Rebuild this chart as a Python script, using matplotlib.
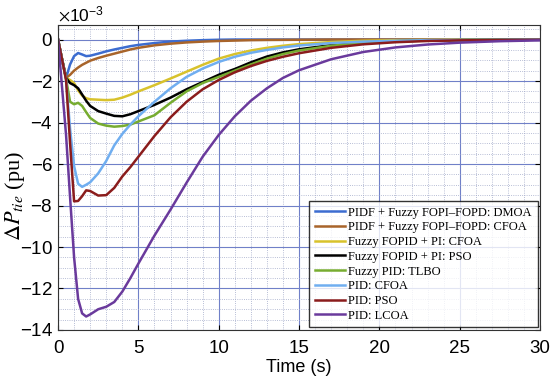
import matplotlib
matplotlib.use("Agg")
import matplotlib.pyplot as plt
from matplotlib.ticker import MultipleLocator
import numpy as np

plt.rcParams['axes.unicode_minus'] = False
plt.rcParams['mathtext.fontset'] = 'stix'

# time (s)
t = [0, 0.25, 0.5, 0.75, 1.0, 1.25, 1.5, 1.75, 2.0, 2.5, 3.0, 3.5, 4.0, 4.5, 5, 6, 7, 8,
     9, 10, 11, 12, 13, 14, 15, 17, 19, 21, 23, 25, 27.5, 30]

# delta P_tie in units of 1e-3 pu
dmoa = [0, -0.95, -1.85, -1.2, -0.8, -0.65, -0.72, -0.8, -0.78, -0.68, -0.57, -0.48, -0.4, -0.32,
        -0.26, -0.17, -0.1, -0.06, -0.03, -0.01, 0, 0, 0, 0, 0, 0, 0, 0, 0, 0, 0, 0]
cfoa_fopi = [0, -0.95, -1.85, -1.7, -1.5, -1.35, -1.22, -1.12, -1.02, -0.89, -0.78, -0.68, -0.58,
             -0.48, -0.4, -0.28, -0.2, -0.14, -0.1, -0.07, -0.05, -0.03, -0.02, -0.015, -0.01,
             0, 0, 0, 0, 0, 0, 0]
cfoa_fopid = [0, -0.95, -1.85, -1.95, -2.1, -2.45, -2.7, -2.83, -2.88, -2.9, -2.92, -2.9, -2.8,
              -2.66, -2.5, -2.2, -1.88, -1.55, -1.22, -0.92, -0.7, -0.53, -0.4, -0.3, -0.22,
              -0.12, -0.06, -0.03, -0.02, -0.01, 0, 0]
pso_fopid = [0, -0.95, -1.85, -2.1, -2.2, -2.35, -2.65, -2.95, -3.2, -3.45, -3.57, -3.68, -3.7,
             -3.6, -3.45, -3.15, -2.8, -2.4, -2.05, -1.7, -1.42, -1.1, -0.82, -0.62, -0.47,
             -0.27, -0.15, -0.08, -0.05, -0.03, -0.01, 0]
tlbo = [0, -0.95, -1.9, -3.0, -3.12, -3.05, -3.2, -3.5, -3.78, -4.05, -4.15, -4.2, -4.17, -4.1,
        -3.95, -3.65, -3.05, -2.5, -2.1, -1.8, -1.5, -1.2, -0.92, -0.7, -0.53, -0.3, -0.17,
        -0.09, -0.05, -0.03, -0.01, 0]
cfoa_pid = [0, -0.95, -1.9, -4.3, -6.1, -6.95, -7.1, -7.0, -6.88, -6.45, -5.85, -5.1, -4.55,
            -4.1, -3.7, -3.0, -2.35, -1.8, -1.4, -1.08, -0.83, -0.64, -0.5, -0.38, -0.29,
            -0.17, -0.1, -0.06, -0.03, -0.02, -0.01, 0]
pso_pid = [0, -0.95, -1.95, -5.0, -7.8, -7.78, -7.55, -7.27, -7.3, -7.52, -7.5, -7.15, -6.6,
           -6.15, -5.65, -4.65, -3.75, -3.0, -2.4, -1.95, -1.58, -1.28, -1.03, -0.83, -0.66,
           -0.4, -0.23, -0.13, -0.07, -0.04, -0.02, -0.01]
lcoa_pid = [0, -2.3, -4.6, -7.6, -10.5, -12.5, -13.2, -13.35, -13.25, -13.0, -12.88, -12.65,
            -12.15, -11.5, -10.8, -9.45, -8.2, -6.9, -5.65, -4.6, -3.7, -2.95, -2.35, -1.85,
            -1.48, -0.95, -0.6, -0.38, -0.24, -0.15, -0.08, -0.04]

labels = ['PIDF + Fuzzy FOPI\u2013FOPD: DMOA', 'PIDF + Fuzzy FOPI\u2013FOPD: CFOA',
          'Fuzzy FOPID + PI: CFOA', 'Fuzzy FOPID + PI: PSO', 'Fuzzy PID: TLBO',
          'PID: CFOA', 'PID: PSO', 'PID: LCOA']
series = [dmoa, cfoa_fopi, cfoa_fopid, pso_fopid, tlbo, cfoa_pid, pso_pid, lcoa_pid]
colors = ['#3c6cd0', '#a8642a', '#d8c22c', '#000000', '#77ac30', '#70aef0', '#8a1c1c', '#6a3a9c']

fig = plt.figure(figsize=(5.5, 3.83), dpi=100)
ax = fig.add_axes([0.1055, 0.1384, 0.8765, 0.7963])

for y, c, lab in zip(series, colors, labels):
    ax.plot(t, np.array(y) * 1e-3, color=c, lw=1.8, label=lab)

ax.set_xlim(0, 30)
ax.set_ylim(-14e-3, 0.7e-3)
ax.xaxis.set_major_locator(MultipleLocator(5))
ax.xaxis.set_minor_locator(MultipleLocator(1))
ax.yaxis.set_major_locator(MultipleLocator(2e-3))
ax.yaxis.set_minor_locator(MultipleLocator(0.5e-3))
ax.ticklabel_format(axis='y', style='sci', scilimits=(-3, -3), useMathText=True)
ax.yaxis.get_offset_text().set_fontsize(12.5)
ax.yaxis.get_offset_text().set_family('Liberation Sans')

ax.grid(which='major', color='#7080c8', lw=0.8)
ax.grid(which='minor', color='#a0a8c8', lw=0.6, ls=':')
ax.set_axisbelow(True)
ax.tick_params(which='both', direction='in', top=True, right=True, labelsize=13.5)
ax.tick_params(axis='x', pad=7)
ax.tick_params(which='minor', length=0)
for lbl in ax.get_xticklabels() + ax.get_yticklabels():
    lbl.set_family('Liberation Sans')
for s in ax.spines.values():
    s.set_color('#333333')

ax.set_xlabel('Time (s)', fontsize=13, family='Liberation Sans', labelpad=2)
ax.set_ylabel(r'$\Delta P_{tie}$ (pu)', fontsize=16, family='Liberation Serif')
ax.yaxis.set_label_coords(-0.064, 0.44)

leg = ax.legend(loc='lower right', prop={'family': 'Liberation Serif', 'size': 9.0},
                frameon=True, fancybox=False, borderaxespad=0.2, handlelength=2.4,
                handletextpad=0.3, labelspacing=0.22, borderpad=0.45)
leg.get_frame().set_edgecolor('black')
leg.get_frame().set_linewidth(1.0)

fig.savefig('out.png', dpi=100)
